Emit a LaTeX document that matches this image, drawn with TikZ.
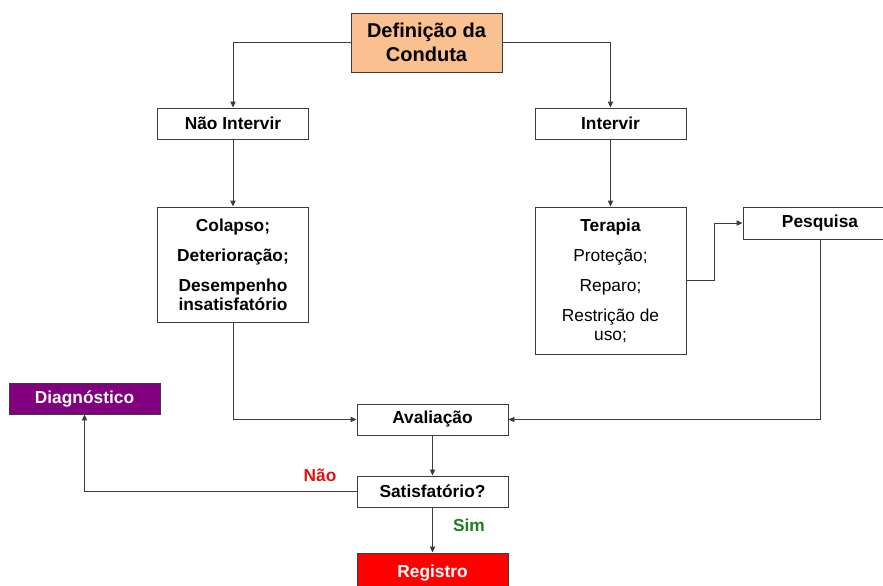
\documentclass[tikz,border=0pt]{standalone}
\usepackage{fontspec}
\setmainfont{Liberation Sans}
\usetikzlibrary{arrows.meta}
\definecolor{peach}{RGB}{250,192,144}
\definecolor{diagpurple}{RGB}{128,0,128}
\definecolor{regred}{RGB}{255,0,0}
\definecolor{naored}{RGB}{220,20,20}
\definecolor{simgreen}{RGB}{30,125,30}
\definecolor{edgegray}{RGB}{60,60,60}
\begin{document}
\begin{tikzpicture}[x=0.75pt,y=-0.75pt,
  box/.style={draw=edgegray,line width=0.7pt,fill=white,minimum width=113.25pt,
    minimum height=23.25pt,inner sep=2pt,align=center,
    font=\fontsize{13}{14.5}\selectfont\bfseries},
  arr/.style={draw=edgegray,line width=0.7pt,-{Triangle[length=4.5pt,width=4pt]}},
  lnk/.style={draw=edgegray,line width=0.7pt},
  lbl/.style={font=\fontsize{13}{14.5}\selectfont\bfseries}]
\useasboundingbox (0,0) rectangle (883,586);
\node[box,fill=peach,minimum height=44.25pt,font=\fontsize{15}{17.5}\selectfont\bfseries] (def) at (426.5,42.5) {Definição da\\Conduta};
\node[box] (noint) at (233,123.5) {Não Intervir};
\node[box] (int) at (610.5,123.5) {Intervir};
\node[box,minimum height=86.25pt] (col) at (233,264.5) {Colapso;\\[8pt]Deterioração;\\[8pt]Desempenho\\insatisfatório};
\node[box,minimum height=110.25pt] (ter) at (610.5,280.5) {Terapia\\[8pt]\mdseries Proteção;\\[8pt]\mdseries Reparo;\\[8pt]\mdseries Restrição de\\\mdseries uso;};
\node[box,minimum width=115.5pt,minimum height=24pt] (pes) at (820,223) {Pesquisa};
\node[box] (ava) at (432.5,419.5) {Avaliação};
\node[box] (sat) at (432.5,491.5) {Satisfatório?};
\node[box,fill=diagpurple,text=white] (diag) at (84.5,398.5) {Diagnóstico};
\node[box,fill=regred,text=white,minimum height=30pt] (reg) at (432.5,573) {Registro};
\node[lbl,text=naored] (nao) at (320,475) {Não};
\node[lbl,text=simgreen] (sim) at (469,525) {Sim};
\draw[arr] (def.west) -| (noint.north);
\draw[arr] (def.east) -| (int.north);
\draw[arr] (noint.south) -- (col.north);
\draw[arr] (int.south) -- (ter.north);
\draw[arr] (ter.east) -- ++(28,0) |- (pes.west);
\draw[arr] (pes.south) |- (ava.east);
\draw[arr] (col.south) |- (ava.west);
\draw[arr] (ava.south) -- (sat.north);
\draw[arr] (sat.west) -| (diag.south);
\draw[arr] (sat.south) -- (reg.north);
\end{tikzpicture}
\end{document}
